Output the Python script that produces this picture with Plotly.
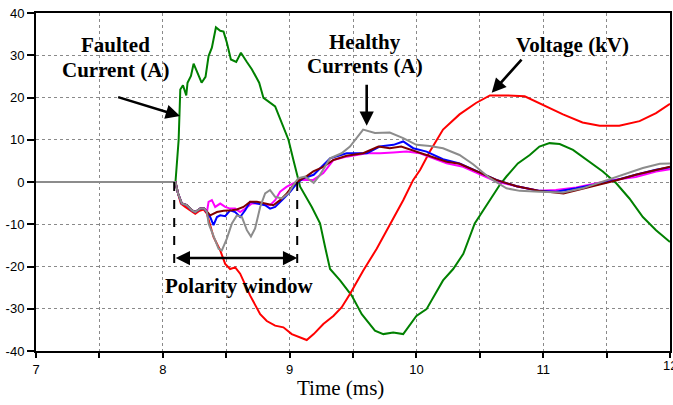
import plotly.graph_objects as go

# ---------------- data ----------------
green_t = [7.0, 8.10, 8.125, 8.138, 8.159, 8.185, 8.195, 8.222, 8.243, 8.274, 8.306, 8.337, 8.361, 8.387,
           8.419, 8.453, 8.479, 8.505, 8.537, 8.579, 8.616, 8.663, 8.702, 8.760, 8.794, 8.886, 8.939,
           8.991, 9.030, 9.069, 9.083, 9.175, 9.240, 9.280, 9.319, 9.398, 9.490, 9.569, 9.673, 9.739,
           9.817, 9.896, 9.935, 10.0, 10.08, 10.21, 10.29, 10.37, 10.46, 10.565, 10.657, 10.71, 10.80,
           10.894, 10.97, 11.05, 11.13, 11.235, 11.366, 11.47, 11.576, 11.68, 11.786, 11.89, 12.0]
green_v = [0, 0, 10.0, 21.9, 22.9, 20.5, 23.5, 25.1, 28.0, 25.9, 23.5, 24.9, 29.8, 31.8,
           36.6, 35.8, 35.6, 33.0, 29.0, 28.4, 30.6, 28.4, 26.7, 23.5, 19.9, 17.9, 14.0,
           10.0, 5.2, 0.5, -1.1, -5.9, -9.8, -15.4, -20.6, -23.3, -26.9, -31.3, -35.2, -36.0,
           -35.6, -36.0, -34.4, -31.7, -30.1, -23.3, -20.6, -17.0, -9.8, -5.1, -0.7, 1.3, 4.4,
           6.4, 8.4, 9.2, 9.0, 7.6, 4.8, 2.5, -0.3, -3.9, -8.3, -11.4, -14.2]

red_t = [7.0, 8.10, 8.12, 8.143, 8.177, 8.217, 8.256, 8.29, 8.321, 8.348, 8.374, 8.40, 8.453, 8.492,
         8.531, 8.571, 8.61, 8.65, 8.689, 8.768, 8.82, 8.886, 8.951, 9.017, 9.083, 9.135, 9.19,
         9.266, 9.345, 9.41, 9.476, 9.58, 9.687, 9.79, 9.896, 9.975, 10.03, 10.106, 10.21, 10.34,
         10.47, 10.58, 10.71, 10.854, 11.0, 11.156, 11.31, 11.445, 11.6, 11.76, 11.89, 12.0]
red_v = [0, 0, -2.7, -5.1, -5.9, -6.7, -7.5, -6.8, -6.5, -7.5, -10.6, -13.0, -16.2, -19.4,
         -20.6, -20.2, -21.7, -24.5, -26.9, -31.3, -32.9, -34.0, -34.4, -36.0, -36.8, -37.4, -36.0,
         -33.6, -31.7, -29.7, -26.5, -21.0, -15.8, -10.2, -4.3, 0.5, 2.9, 7.2, 12.4, 16.0,
         18.7, 20.5, 20.5, 20.3, 18.3, 16.0, 14.1, 13.3, 13.3, 14.4, 16.3, 18.5]

# common start of the healthy-feeder currents
common_t = [7.0, 8.10, 8.12, 8.15, 8.19, 8.23, 8.256, 8.295, 8.327, 8.348]
common_v = [0, 0, -2.7, -5.1, -5.5, -6.7, -7.1, -6.3, -6.3, -7.1]

blue_t = [8.374, 8.40, 8.427, 8.453, 8.492, 8.531, 8.571, 8.61, 8.65, 8.689, 8.742, 8.807, 8.846,
          8.886, 8.939, 9.004, 9.057, 9.11, 9.19, 9.266, 9.319, 9.45, 9.61, 9.71, 9.82, 9.896,
          9.975, 10.08, 10.21, 10.34, 10.5, 10.63, 10.79, 10.97, 11.1, 11.26, 11.42, 11.58,
          11.73, 11.89, 12.0]
blue_v = [-8.3, -10.2, -8.3, -7.9, -8.1, -6.7, -7.1, -8.3, -6.7, -4.7, -5.1, -5.5, -6.3,
          -5.9, -4.3, -2.3, -0.3, 0.9, 1.7, 4.0, 5.6, 6.8, 6.8, 8.4, 8.8, 9.6,
          8.0, 7.2, 5.4, 4.4, 2.2, 0.5, -1.0, -2.1, -2.3, -1.5, -0.5, 0.5,
          1.7, 2.9, 3.5]

magenta_t = [8.361, 8.387, 8.413, 8.453, 8.492, 8.531, 8.571, 8.61, 8.65, 8.702, 8.768, 8.846,
             8.886, 8.925, 8.978, 9.03, 9.083, 9.187, 9.266, 9.345, 9.45, 9.608, 9.713, 9.817,
             9.923, 10.028, 10.132, 10.238, 10.368, 10.5, 10.63, 10.79, 10.97, 11.10, 11.26,
             11.42, 11.58, 11.73, 11.89, 12.0]
magenta_v = [-4.7, -4.3, -5.9, -5.1, -5.9, -6.3, -6.3, -7.1, -6.3, -5.1, -5.1, -5.5,
             -4.3, -2.3, -1.1, -0.3, 0.5, 0.5, 2.1, 5.2, 6.0, 6.8, 6.8, 7.0,
             7.2, 6.8, 5.6, 4.4, 3.6, 1.9, 0.1, -1.0, -2.1, -1.9, -1.3,
             -0.3, 0.6, 1.2, 2.5, 3.0]

maroon_t = [8.374, 8.427, 8.479, 8.545, 8.584, 8.636, 8.689, 8.742, 8.82, 8.872, 8.925, 8.978,
            9.030, 9.083, 9.135, 9.187, 9.266, 9.345, 9.45, 9.58, 9.70, 9.79, 9.88, 10.0,
            10.13, 10.238, 10.34, 10.5, 10.63, 10.79, 10.97, 11.16, 11.26, 11.42, 11.58,
            11.73, 11.89, 12.0]
maroon_v = [-7.9, -7.1, -6.8, -6.7, -6.5, -5.9, -4.7, -4.7, -5.1, -5.5, -4.3, -2.7,
            -0.7, 0.5, 1.4, 2.5, 3.6, 5.2, 6.2, 6.8, 8.4, 8.0, 8.4, 7.2,
            6.0, 4.8, 4.3, 2.2, 0.5, -1.0, -2.1, -2.7, -2.0, -0.8, 0.4,
            1.7, 2.9, 3.6]

gray_t = [8.361, 8.40, 8.44, 8.466, 8.505, 8.545, 8.584, 8.624, 8.663, 8.695, 8.728, 8.768,
          8.807, 8.846, 8.886, 8.939, 8.991, 9.03, 9.069, 9.122, 9.19, 9.24, 9.319, 9.41,
          9.476, 9.58, 9.673, 9.79, 9.896, 10.0, 10.106, 10.21, 10.34, 10.447, 10.58, 10.71,
          10.815, 10.97, 11.156, 11.31, 11.47, 11.63, 11.786, 11.92, 12.0]
gray_v = [-9.8, -13.0, -15.8, -16.2, -13.4, -9.8, -7.9, -8.3, -11.4, -12.9, -11.0, -5.9,
          -2.7, -1.9, -3.5, -3.9, -2.7, -0.7, 0.9, 1.3, -0.2, 1.7, 5.6, 6.8,
          8.4, 12.4, 11.6, 11.7, 10.4, 8.8, 8.5, 8.0, 6.4, 4.2, 0.9, -1.5,
          -2.1, -2.3, -2.5, -1.5, 0.1, 1.7, 3.3, 4.3, 4.4]

x_tickvals = [7, 7.5, 8, 8.5, 9, 9.5, 10, 10.5, 11, 11.5, 12]
x_ticktext = ["7", "", "8", "", "9", "", "10", "", "11", "", "12"]
y_tickvals = [40, 30, 20, 10, 0, -10, -20, -30, -40]
y_ticktext = ["40", "30", "20", "10", "0", "-10", "-20", "-30", "-40"]

window_start = 8.09
window_end = 9.06

# ---------------- figure ----------------
fig = go.Figure()

series = [
    (green_t, green_v, "#008000"),
    (red_t, red_v, "#ff0000"),
    (common_t + magenta_t, common_v + magenta_v, "#ff00ff"),
    (common_t + blue_t, common_v + blue_v, "#0000ff"),
    (common_t + maroon_t, common_v + maroon_v, "#800000"),
    (common_t + gray_t, common_v + gray_v, "#8c8c8c"),
]
for t, v, c in series:
    fig.add_trace(go.Scatter(x=t, y=v, mode="lines", line=dict(color=c, width=2),
                             showlegend=False, hoverinfo="skip"))

serif = "Liberation Serif, Times New Roman, serif"
lab_font = dict(family=serif, size=21, color="black")
tick_font = dict(family="Liberation Sans, Arial, sans-serif", size=13, color="black")

def label(text, x, y):
    fig.add_annotation(x=x, y=y, xref="x", yref="y", text="<b>" + text + "</b>",
                       showarrow=False, font=lab_font, xanchor="center", yanchor="middle")

label("Faulted", 7.63, 32.5)
label("Current (A)", 7.63, 26.5)
label("Healthy", 9.595, 33.2)
label("Currents (A)", 9.595, 27.4)
label("Voltage (kV)", 11.23, 32.5)
label("Polarity window", 8.60, -24.6)

# x-axis title
fig.add_annotation(x=0.481, y=-0.11, xref="paper", yref="paper", text="Time (ms)",
                   showarrow=False, font=dict(family=serif, size=21, color="black"),
                   xanchor="center", yanchor="middle")

# last x tick label (clipped at the right edge, as in the reference)
fig.add_annotation(x=x_tickvals[-1], y=-40, xref="x", yref="y", text=x_ticktext[-1],
                   showarrow=False, font=tick_font, xanchor="center", yanchor="top",
                   yshift=-5)

def arrow(x, y, ax, ay, side="end"):
    fig.add_annotation(x=x, y=y, ax=ax, ay=ay, xref="x", yref="y", axref="x", ayref="y",
                       text="", showarrow=True, arrowhead=2, arrowsize=1.1, arrowwidth=2.6,
                       arrowcolor="black", arrowside=side, standoff=0, startstandoff=0)

arrow(8.136, 15.6, 7.636, 20.2)
arrow(9.608, 13.3, 9.608, 23.4)
arrow(10.594, 21.1, 10.84, 29.3)
arrow(window_end, -18, window_start, -18, side="end+start")

for xv in (window_start, window_end):
    fig.add_shape(type="line", x0=xv, x1=xv, y0=0, y1=-20.5, xref="x", yref="y",
                  line=dict(color="black", width=2, dash="dash"))

fig.update_xaxes(range=[7, 12], tickvals=x_tickvals, ticktext=x_ticktext, automargin=False,
                 showgrid=True, gridcolor="#8a8a8a", griddash="dot", gridwidth=1,
                 showline=True, linecolor="black", linewidth=2, mirror=True,
                 ticks="outside", ticklen=5, tickwidth=2, tickcolor="black",
                 tickfont=tick_font, zeroline=False)
fig.update_yaxes(range=[-40, 40], tickvals=y_tickvals, ticktext=y_ticktext, automargin=False,
                 showgrid=True, gridcolor="#8a8a8a", griddash="dot", gridwidth=1,
                 showline=True, linecolor="black", linewidth=2, mirror=True,
                 ticks="outside", ticklen=7, tickwidth=2, tickcolor="black",
                 tickfont=tick_font, zeroline=False)

fig.update_layout(width=673, height=405, margin=dict(l=36, r=3, t=13, b=54),
                  paper_bgcolor="white", plot_bgcolor="white")

fig.write_html("out.html", config={"displayModeBar": False},
               post_script="document.body.style.margin='0';document.body.style.overflow='hidden';")
